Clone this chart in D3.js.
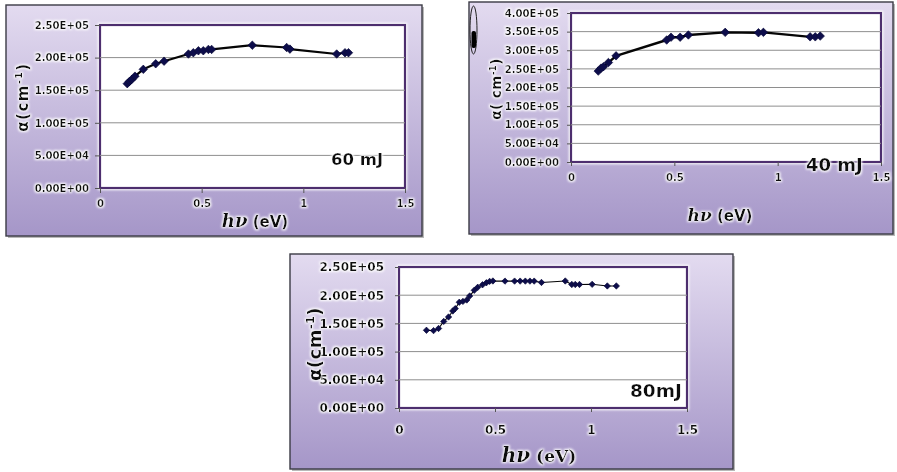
<!DOCTYPE html>
<html>
<head>
<meta charset="utf-8">
<script src="https://cdn.jsdelivr.net/npm/d3@7"></script>
<style>
  body { margin: 0; background: #ffffff; }
  svg { display: block; }
</style>
</head>
<body>
<script>
// Absorption coefficient α versus photon energy hν for three laser energies.

// 60 mJ
const hv60 = [0.134, 0.145, 0.156, 0.172, 0.213, 0.274, 0.315, 0.435, 0.459, 0.484, 0.508, 0.533, 0.549, 0.749, 0.918, 0.934, 1.164, 1.205, 1.222];
const alpha60 = [1.60e5, 1.635e5, 1.665e5, 1.715e5, 1.82e5, 1.905e5, 1.945e5, 2.055e5, 2.075e5, 2.105e5, 2.105e5, 2.125e5, 2.125e5, 2.19e5, 2.155e5, 2.13e5, 2.055e5, 2.075e5, 2.075e5];

// 40 mJ
const hv40 = [0.132, 0.145, 0.157, 0.181, 0.218, 0.463, 0.484, 0.528, 0.568, 0.746, 0.907, 0.931, 1.157, 1.182, 1.206];
const alpha40 = [2.44e5, 2.52e5, 2.56e5, 2.67e5, 2.85e5, 3.275e5, 3.35e5, 3.35e5, 3.41e5, 3.48e5, 3.47e5, 3.48e5, 3.36e5, 3.36e5, 3.38e5];

// 80 mJ
const hv80 = [0.143, 0.180, 0.206, 0.233, 0.258, 0.280, 0.293, 0.314, 0.333, 0.353, 0.368, 0.392, 0.410, 0.435, 0.455, 0.472, 0.489, 0.552, 0.602, 0.631, 0.658, 0.682, 0.704, 0.742, 0.866, 0.900, 0.918, 0.940, 1.006, 1.085, 1.132];
const alpha80 = [1.378e5, 1.372e5, 1.41e5, 1.535e5, 1.614e5, 1.72e5, 1.762e5, 1.875e5, 1.89e5, 1.915e5, 1.985e5, 2.087e5, 2.14e5, 2.185e5, 2.22e5, 2.245e5, 2.252e5, 2.25e5, 2.25e5, 2.25e5, 2.25e5, 2.25e5, 2.25e5, 2.226e5, 2.252e5, 2.19e5, 2.19e5, 2.19e5, 2.193e5, 2.164e5, 2.164e5];

// Axis ticks and panel labels
const xTicks = [0, 0.5, 1, 1.5];
const yTicks60 = [0, 5e4, 1e5, 1.5e5, 2e5, 2.5e5];
const yTicks40 = [0, 5e4, 1e5, 1.5e5, 2e5, 2.5e5, 3e5, 3.5e5, 4e5];
const yTicks80 = [0, 5e4, 1e5, 1.5e5, 2e5, 2.5e5];
const panelLabels = ["60 mJ", "40 mJ", "80mJ"];

// Scientific tick format, e.g. 2.50E+05
function sci(v) {
  if (v === 0) return "0.00E+00";
  const e = Math.floor(Math.log10(Math.abs(v)));
  const m = v / Math.pow(10, e);
  return m.toFixed(2) + "E" + (e >= 0 ? "+" : "-") + String(Math.abs(e)).padStart(2, "0");
}

const W = 897, H = 472;
const svg = d3.select("body").append("svg").attr("width", W).attr("height", H);
const defs = svg.append("defs");

// soft lavender panel fill
const grad = defs.append("linearGradient").attr("id", "panelFill")
  .attr("x1", 0).attr("y1", 0).attr("x2", 0).attr("y2", 1);
grad.append("stop").attr("offset", "0%").attr("stop-color", "#e3dbf0");
grad.append("stop").attr("offset", "100%").attr("stop-color", "#a596c8");

// white halo around text and plot frame
const glow = defs.append("filter").attr("id", "glow")
  .attr("x", "-20%").attr("y", "-40%").attr("width", "140%").attr("height", "180%");
glow.append("feMorphology").attr("in", "SourceAlpha").attr("operator", "dilate").attr("radius", 1.2).attr("result", "d");
glow.append("feGaussianBlur").attr("in", "d").attr("stdDeviation", 1.1).attr("result", "b");
glow.append("feFlood").attr("flood-color", "#ffffff");
glow.append("feComposite").attr("in2", "b").attr("operator", "in").attr("result", "g");
const gm = glow.append("feMerge");
gm.append("feMergeNode").attr("in", "g");
gm.append("feMergeNode").attr("in", "SourceGraphic");

const soft = defs.append("filter").attr("id", "soft");
soft.append("feGaussianBlur").attr("stdDeviation", 0.45);

const SANS = "'DejaVu Sans', sans-serif";
const SERIF = "'DejaVu Serif', serif";

const panels = [
  {
    hv: hv60, alpha: alpha60, yTicks: yTicks60, label: panelLabels[0],
    frame: [6, 5, 416, 231], plot: [100, 25, 405, 188],
    tickFont: 10.1, xTickY: 203, yLabelGap: 11, tickLen: 5,
    xTitle: [255, 227], xTitleSize: [18, 15], sansUnit: true,
    yTitle: [28, 97], yTitleSize: 15, yTitleText: ["α(cm", ")"], ySpacing: 1.5,
    labelPos: [331, 165], labelSize: 16.5,
    line: 2.2, marker: 4.8
  },
  {
    hv: hv40, alpha: alpha40, yTicks: yTicks40, label: panelLabels[1],
    frame: [469, 2, 424, 232], plot: [571, 13, 881, 162],
    tickFont: 10.1, xTickY: 177, yLabelGap: 12, tickLen: 4,
    xTitle: [720, 221], xTitleSize: [17, 15], sansUnit: true,
    yTitle: [501, 89], yTitleSize: 13.5, yTitleText: ["α( cm", ")"], ySpacing: 0.5,
    labelPos: [806, 171], labelSize: 18,
    line: 2.4, marker: 4.8
  },
  {
    hv: hv80, alpha: alpha80, yTicks: yTicks80, label: panelLabels[2],
    frame: [290, 254, 443, 215], plot: [399, 267, 687, 408],
    tickFont: 12, xTickY: 430, yLabelGap: 15, tickLen: 4,
    xTitle: [539, 462], xTitleSize: [20, 17], sansUnit: false,
    yTitle: [321, 344], yTitleSize: 18, yTitleText: ["α(cm", ")"], ySpacing: 0.5,
    labelPos: [630, 397], labelSize: 18.5,
    line: 1.1, marker: 3.6
  }
];

function drawPanel(p) {
  const g = svg.append("g");
  const [fx, fy, fw, fh] = p.frame;
  const [x0, y0, x1, y1] = p.plot;

  // outer panel
  g.append("rect").attr("x", fx + 2).attr("y", fy + 2).attr("width", fw).attr("height", fh)
    .attr("fill", "#b8b8b8");
  g.append("rect").attr("x", fx).attr("y", fy).attr("width", fw).attr("height", fh)
    .attr("fill", "url(#panelFill)").attr("stroke", "#3b3b45").attr("stroke-width", 1.4);

  const x = d3.scaleLinear().domain([0, 1.5]).range([x0, x1]);
  const y = d3.scaleLinear().domain([0, d3.max(p.yTicks)]).range([y1, y0]);

  // plot area with halo
  g.append("rect").attr("x", x0).attr("y", y0).attr("width", x1 - x0).attr("height", y1 - y0)
    .attr("fill", "#ffffff").attr("stroke", "#4d2f6e").attr("stroke-width", 2.2)
    .attr("filter", "url(#glow)");

  // horizontal gridlines
  g.append("g").selectAll("line").data(p.yTicks.filter(v => v > 0 && v < d3.max(p.yTicks)))
    .join("line")
    .attr("x1", x0).attr("x2", x1)
    .attr("y1", d => y(d)).attr("y2", d => y(d))
    .attr("stroke", "#8e8e8e").attr("stroke-width", 1);

  // y axis ticks and labels
  const yAxis = d3.axisLeft(y).tickValues(p.yTicks).tickFormat(sci)
    .tickSizeInner(p.tickLen).tickSizeOuter(0).tickPadding(p.yLabelGap - p.tickLen);
  const ya = g.append("g").attr("transform", `translate(${x0},0)`).call(yAxis);
  ya.select(".domain").remove();
  ya.selectAll(".tick line").attr("stroke", "#555");
  ya.selectAll(".tick text")
    .attr("font-family", SANS).attr("font-weight", "bold").attr("font-size", p.tickFont)
    .attr("fill", "#111").attr("filter", "url(#glow)");

  // x axis ticks and labels
  const xAxis = d3.axisBottom(x).tickValues(xTicks).tickFormat(d3.format("~g"))
    .tickSizeInner(p.tickLen).tickSizeOuter(0).tickPadding(0);
  const xa = g.append("g").attr("transform", `translate(0,${y1})`).call(xAxis);
  xa.select(".domain").remove();
  xa.selectAll(".tick line").attr("stroke", "#555");
  xa.selectAll(".tick text")
    .attr("y", p.xTickY - y1).attr("dy", "0.35em")
    .attr("font-family", SANS).attr("font-weight", "bold").attr("font-size", p.tickFont)
    .attr("fill", "#111").attr("filter", "url(#glow)");

  // connecting line and diamond markers
  const pts = p.hv.map((h, i) => [h, p.alpha[i]]);
  const line = d3.line().x(d => x(d[0])).y(d => y(d[1]));
  g.append("path").datum(pts).attr("d", line)
    .attr("fill", "none").attr("stroke", "#050505").attr("stroke-width", p.line)
    .attr("stroke-linejoin", "round");
  const sym = d3.symbol().type(d3.symbolDiamond2).size(2 * p.marker * p.marker);
  g.append("g").attr("filter", "url(#soft)").selectAll("path").data(pts).join("path")
    .attr("transform", d => `translate(${x(d[0])},${y(d[1])})`)
    .attr("d", sym).attr("fill", "#0c0c4c").attr("stroke", "#050530").attr("stroke-width", 0.6);

  // x axis title: hν (eV)
  const xt = g.append("text").attr("x", p.xTitle[0]).attr("y", p.xTitle[1])
    .attr("text-anchor", "middle").attr("fill", "#111").attr("filter", "url(#glow)");
  xt.append("tspan").attr("font-family", SERIF).attr("font-style", "italic").attr("font-weight", "bold")
    .attr("font-size", p.xTitleSize[0]).text("hν");
  xt.append("tspan").attr("font-family", p.sansUnit ? SANS : SERIF).attr("font-weight", "bold")
    .attr("font-size", p.xTitleSize[1]).text(" (eV)");

  // y axis title: α(cm-1)
  const yt = g.append("text")
    .attr("transform", `translate(${p.yTitle[0]},${p.yTitle[1]}) rotate(-90)`)
    .attr("text-anchor", "middle").attr("font-family", SANS).attr("font-weight", "bold")
    .attr("font-size", p.yTitleSize).attr("letter-spacing", p.ySpacing)
    .attr("fill", "#111").attr("filter", "url(#glow)");
  yt.append("tspan").text(p.yTitleText[0]);
  yt.append("tspan").attr("font-size", p.yTitleSize * 0.62).attr("dy", -p.yTitleSize * 0.38).text("-1");
  yt.append("tspan").attr("dy", p.yTitleSize * 0.38).text(p.yTitleText[1]);

  // laser energy label
  g.append("text").attr("x", p.labelPos[0]).attr("y", p.labelPos[1])
    .attr("font-family", SANS).attr("font-weight", "bold").attr("font-size", p.labelSize)
    .attr("fill", "#111").attr("filter", "url(#glow)").text(p.label);
}

panels.forEach(drawPanel);

// stray bracket marks at the left edge of the 40 mJ panel
const mark = svg.append("g");
mark.append("ellipse").attr("cx", 473.5).attr("cy", 30).attr("rx", 3.5).attr("ry", 24)
  .attr("fill", "none").attr("stroke", "#222").attr("stroke-width", 1);
mark.append("rect").attr("x", 471.5).attr("y", 31).attr("width", 4.5).attr("height", 17).attr("rx", 2)
  .attr("fill", "#000");
</script>
</body>
</html>
